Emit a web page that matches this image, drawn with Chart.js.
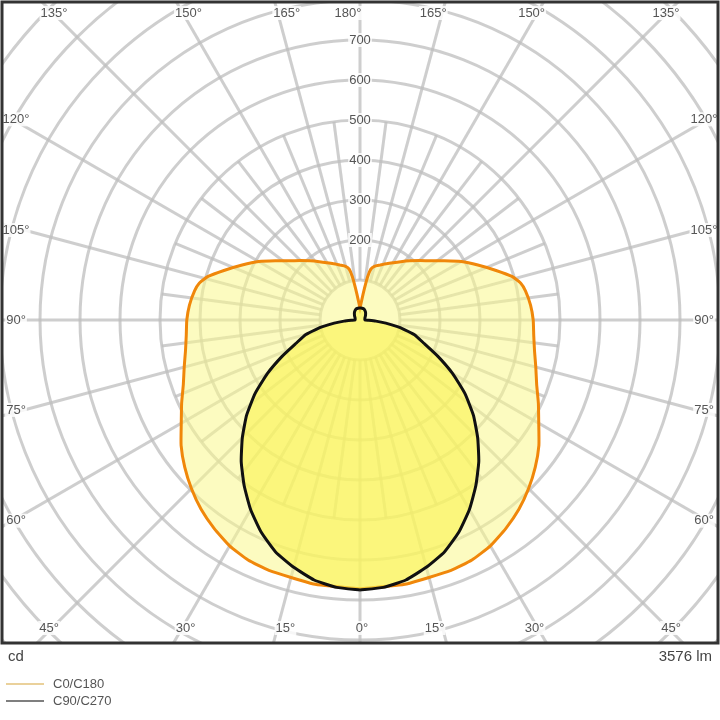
<!DOCTYPE html>
<html><head><meta charset="utf-8">
<script src="https://cdn.jsdelivr.net/npm/chart.js@4/dist/chart.umd.min.js"></script>
<style>body{margin:0;background:#fff}canvas{display:block}</style>
</head><body><canvas id="c" width="720" height="720"></canvas>
<script>
const anglesC0 = [0,10,20,25,30,35,40,45,50,55,60,65,70,75,80,85,90,95,100,103,106,110,115,120,125,130,135,140,145,150,155,160,165,168,170,172,175,178,180];
const valuesC0 = [672,670,666,662,652,636,618,596,572,546,516,492,470,455,443,436,433,428,420,412,395,362,325,292,258,230,210,193,178,165,155,146,139,130,110,80,50,35,30];
const anglesC90 = [0,5,10,15,20,25,30,35,40,45,50,55,60,65,70,75,78,80,83,86,88,90,110,130,145,160,170,180];
const valuesC90 = [675,671,660,640,617,585,547,505,462,416,370,320,267,215,170,140,112,95,65,40,22,12,13,18,24,29,30,30];
const radialTicks = [200,300,400,500,600,700];
const angleTicks = [0,15,30,45,60,75,90,105,120,135,150,165,180];
const seriesNames = ['C0/C180','C90/C270'];
const lumenText = '3576 lm';

function toXY(angles, vals){
  const pts=[];
  for(let i=0;i<angles.length;i++){const a=angles[i]*Math.PI/180;pts.push({x:vals[i]*Math.sin(a),y:-vals[i]*Math.cos(a)});}
  for(let i=angles.length-1;i>=0;i--){const a=angles[i]*Math.PI/180;pts.push({x:-vals[i]*Math.sin(a),y:-vals[i]*Math.cos(a)});}
  return pts;
}
const FONT='"Liberation Sans", Arial, sans-serif';
const gridPlugin={id:'grid',
 beforeDatasetsDraw(ch){
  const c=ch.ctx,a=ch.chartArea,xs=ch.scales.x,ys=ch.scales.y;
  const cx=xs.getPixelForValue(0),cy=ys.getPixelForValue(0);
  const k=xs.getPixelForValue(100)-cx;
  c.save();c.beginPath();c.rect(a.left,a.top,a.right-a.left,a.bottom-a.top);c.clip();
  c.strokeStyle='rgba(190,190,190,0.75)';c.lineWidth=3;
  for(let r=100;r<=1300;r+=100){c.beginPath();c.arc(cx,cy,r/100*k,0,Math.PI*2);c.stroke();}
  for(let d=0;d<360;d+=7.5){
    const t=d*Math.PI/180,is15=d%15===0;
    const r0=k,r1=is15?20*k:5*k;
    c.beginPath();c.moveTo(cx+r0*Math.sin(t),cy+r0*Math.cos(t));c.lineTo(cx+r1*Math.sin(t),cy+r1*Math.cos(t));c.stroke();
  }
  c.restore();
 },
 afterDatasetsDraw(ch){
  const c=ch.ctx,a=ch.chartArea,xs=ch.scales.x,ys=ch.scales.y;
  const cx=xs.getPixelForValue(0),cy=ys.getPixelForValue(0);
  c.save();
  c.font='13px '+FONT;c.textAlign='center';c.textBaseline='middle';
  radialTicks.forEach(v=>{const y=ys.getPixelForValue(v);c.fillStyle='rgba(255,255,255,0.85)';const w=c.measureText(v).width;c.fillRect(cx-w/2-1,y-7,w+2,14);c.fillStyle='#555';c.fillText(v,cx,y);});
  angleTicks.forEach(d=>{
    const t=d*Math.PI/180;
    [1,-1].forEach(sg=>{
      if((d===0||d===180)&&sg<0)return;
      const dx=sg*Math.sin(t),dy=Math.cos(t);
      let tt=1e9;
      if(dx>1e-6)tt=Math.min(tt,(a.right-cx)/dx);if(dx<-1e-6)tt=Math.min(tt,(a.left-cx)/dx);
      if(dy>1e-6)tt=Math.min(tt,(a.bottom-cy)/dy);if(dy<-1e-6)tt=Math.min(tt,(a.top-cy)/dy);
      let px=cx+tt*dx,py=cy+tt*dy;
      const hEdge=Math.abs(py-a.top)<1||Math.abs(py-a.bottom)<1;
      if(hEdge){py+= (py<cy?11:-15);px+= (px<cx?12:(px>cx?-12:0)); if(d===0)px=cx+2;}
      else {px+=(px<cx?14:-14);py+=(py<cy?6:-6); if(d===90)py=cy;}
      c.fillStyle='rgba(255,255,255,0.85)';const s=d+'°';const w=c.measureText(s).width;c.fillRect(px-w/2-1,py-7,w+2,14);
      c.fillStyle='#555';c.fillText(s,px,py);
    });
  });
  c.strokeStyle='#333';c.lineWidth=3;c.strokeRect(a.left,a.top,a.right-a.left,a.bottom-a.top);
  c.font='15px '+FONT;c.fillStyle='#444';c.textBaseline='middle';
  c.textAlign='left';c.fillText('cd',8,657);c.textAlign='right';c.fillText(lumenText,712,657);
  c.font='13px '+FONT;c.textAlign='left';
  const cols=['#e3c27a','#555'];
  seriesNames.forEach((n,i)=>{const y=684+i*17;c.strokeStyle=cols[i];c.lineWidth=1.5;c.beginPath();c.moveTo(6,y);c.lineTo(44,y);c.stroke();c.fillStyle='#555';c.fillText(n,53,y);});
  c.restore();
 }};
new Chart(document.getElementById('c'),{
 type:'scatter',
 data:{datasets:[
  {label:seriesNames[0],data:toXY(anglesC0,valuesC0),showLine:true,borderColor:'#f0870a',borderWidth:3,pointRadius:0,tension:0.15,fill:'shape',backgroundColor:'rgba(250,248,140,0.55)',order:2},
  {label:seriesNames[1],data:toXY(anglesC90,valuesC90),showLine:true,borderColor:'#111',borderWidth:3,pointRadius:0,tension:0.15,fill:'shape',backgroundColor:'rgba(250,244,80,0.6)',order:1}
 ]},
 options:{responsive:false,devicePixelRatio:1,animation:false,
  layout:{padding:{left:2,right:2,top:2,bottom:77}},
  scales:{x:{display:false,min:-895,max:895},y:{display:false,min:-807.5,max:795}},
  plugins:{legend:{display:false},tooltip:{enabled:false}}},
 plugins:[gridPlugin]
});
</script></body></html>
